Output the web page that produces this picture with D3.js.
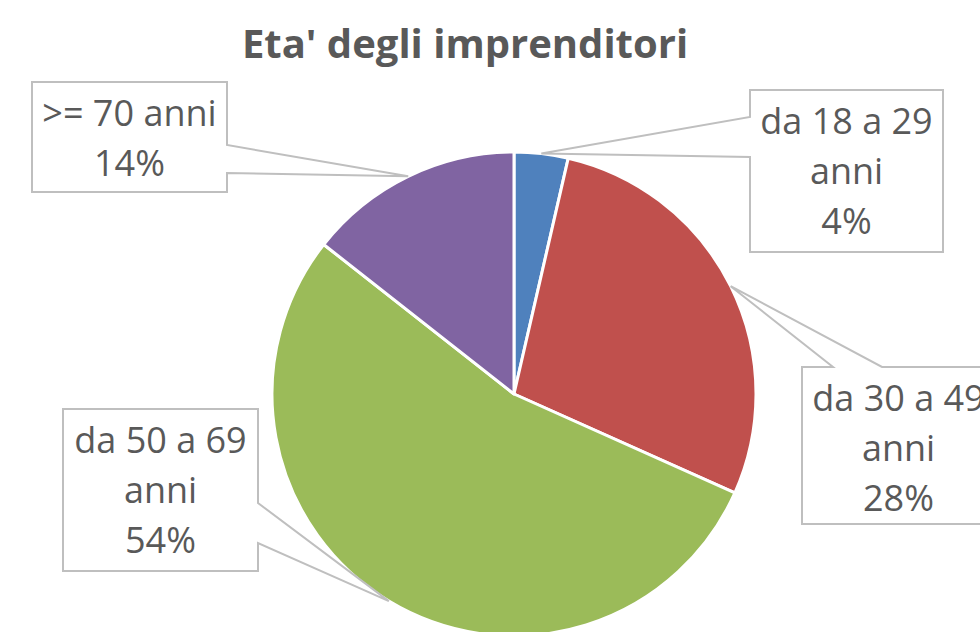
<!DOCTYPE html>
<html><head><meta charset="utf-8">
<script src="https://cdn.jsdelivr.net/npm/d3@7"></script>
<style>html,body{margin:0;padding:0;background:#fff;overflow:hidden}</style>
</head><body>
<svg id="chart" width="980" height="632"></svg>
<script>
const title = "Eta' degli imprenditori";
const categories = ["da 18 a 29 anni", "da 30 a 49 anni", "da 50 a 69 anni", ">= 70 anni"];
const labelLines = [["da 18 a 29", "anni"], ["da 30 a 49", "anni"], ["da 50 a 69", "anni"], [">= 70 anni"]];
const values = [3.6, 28.1, 53.9, 14.4];
const colors = ["#4F81BD", "#C0504D", "#9BBB59", "#8064A2"];

// callout layout (box + which side the pointer leaves from)
const boxes = [
  {x: 750, y: 90, w: 193, h: 162, side: "left", a0: 117, a1: 157},
  {x: 802, y: 367, w: 193, h: 157, side: "top", a0: 833, a1: 882},
  {x: 63, y: 409, w: 195, h: 162, side: "right", a0: 503, a1: 543},
  {x: 32, y: 82, w: 195, h: 110, side: "right", a0: 145, a1: 173}
];

const svg = d3.select("#chart");
const cx = 514, cy = 394, R = 242;
const textColor = "#595959";
const font = "'Open Sans', sans-serif";

svg.append("text").attr("x", 465).attr("y", 58).attr("text-anchor", "middle")
  .attr("font-family", font).attr("font-weight", "bold").attr("font-size", 40)
  .attr("fill", textColor).text(title);

const pie = d3.pie().sort(null).value(d => d)(values);
const arc = d3.arc().innerRadius(0).outerRadius(R);
const g = svg.append("g").attr("transform", `translate(${cx},${cy})`);
g.selectAll("path").data(pie).join("path")
  .attr("d", arc).attr("fill", (d, i) => colors[i])
  .attr("stroke", "#fff").attr("stroke-width", 3).attr("stroke-linejoin", "round");

const total = d3.sum(values);

function calloutPath(b, tip) {
  const p = d3.path();
  const x0 = b.x, y0 = b.y, x1 = b.x + b.w, y1 = b.y + b.h;
  p.moveTo(x0, y0);
  if (b.side === "top") { p.lineTo(b.a0, y0); p.lineTo(tip[0], tip[1]); p.lineTo(b.a1, y0); }
  p.lineTo(x1, y0);
  if (b.side === "right") { p.lineTo(x1, b.a0); p.lineTo(tip[0], tip[1]); p.lineTo(x1, b.a1); }
  p.lineTo(x1, y1);
  p.lineTo(x0, y1);
  if (b.side === "left") { p.lineTo(x0, b.a1); p.lineTo(tip[0], tip[1]); p.lineTo(x0, b.a0); }
  p.closePath();
  return p.toString();
}

pie.forEach((d, i) => {
  const b = boxes[i];
  const mid = (d.startAngle + d.endAngle) / 2;
  const tip = [cx + R * Math.sin(mid), cy - R * Math.cos(mid)];
  svg.append("path").attr("d", calloutPath(b, tip))
    .attr("fill", "#fff").attr("stroke", "#BFBFBF").attr("stroke-width", 2);
  const lines = labelLines[i].concat([Math.round(values[i] / total * 100) + "%"]);
  const t = svg.append("text").attr("text-anchor", "middle")
    .attr("font-family", font).attr("font-size", 36).attr("fill", textColor);
  lines.forEach((ln, k) => {
    t.append("tspan").attr("x", b.x + b.w / 2).attr("y", b.y + 44 + k * 50).text(ln);
  });
});
</script>
</body></html>
